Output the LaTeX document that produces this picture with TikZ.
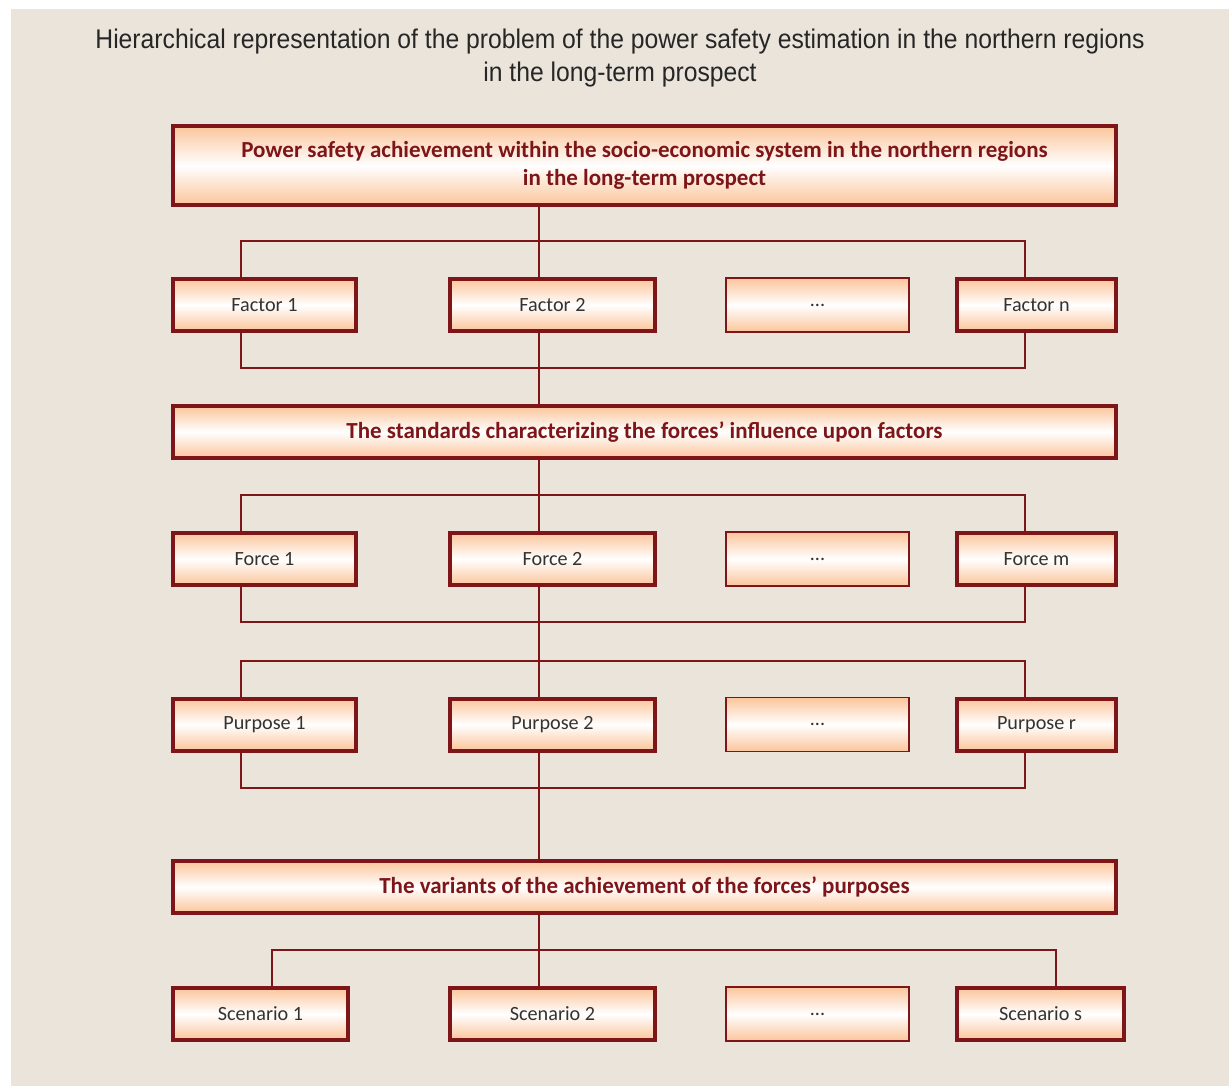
\documentclass[tikz,border=0pt]{standalone}
\usepackage{fontspec}
\setmainfont{Carlito}
\newfontfamily\titlefont[FakeStretch=0.915]{Liberation Sans}
\usepackage{tikz}
\usetikzlibrary{positioning}

\definecolor{wine}{HTML}{7E1518}
\definecolor{peach}{HTML}{FBC59B}
\definecolor{paper}{HTML}{EBE4DA}
\definecolor{ink}{HTML}{333333}

\begin{document}
\begin{tikzpicture}[x=1pt,y=-1pt,
    box/.style={draw=wine,line width=4pt,top color=peach,bottom color=peach,
      middle color=white,inner sep=0pt,minimum height=52pt,text=ink,
      font=\fontsize{20.2}{23}\selectfont},
    headbox/.style={box,minimum width=943pt,text=wine,
      font=\fontsize{23}{28}\selectfont\bfseries,align=center},
    gapbox/.style={box,line width=1.5pt,minimum height=54pt},
    link/.style={draw=wine,line width=2pt}]

        % background and page
        \useasboundingbox (0,0) rectangle (1229,1086);
        \fill[white] (0,0) rectangle (1229,1086);
        \fill[paper] (11,9) rectangle (1229,1086);

        \node[font=\titlefont\fontsize{27}{33}\selectfont,text=black!85,align=center]
            (title) at (620,58) {Hierarchical representation of the problem of the power safety estimation in the northern regions\\in the long-term prospect};

        % top goal
        \node[headbox,minimum height=79pt] (goal) at (644.5,165.5)
            {Power safety achievement within the socio-economic system in the northern regions\\in the long-term prospect};

        % factors
        \node[box,minimum width=183pt] (fac1) at (264.5,305) {Factor 1};
        \node[box,minimum width=205pt] (fac2) at (552.5,305) {Factor 2};
        \node[gapbox,minimum width=183pt] (facx) at (817.5,305) {...};
        \node[box,minimum width=159pt] (facn) at (1036.5,305) {Factor n};

        \node[headbox] (stand) at (644.5,432)
            {The standards characterizing the forces’ influence upon factors};

        % forces
        \node[box,minimum width=183pt] (frc1) at (264.5,559) {Force 1};
        \node[box,minimum width=205pt] (frc2) at (552.5,559) {Force 2};
        \node[gapbox,minimum width=183pt] (frcx) at (817.5,559) {...};
        \node[box,minimum width=159pt] (frcm) at (1036.5,559) {Force m};

        % purposes
        \node[box,minimum width=183pt] (pur1) at (264.5,724.5) {Purpose 1};
        \node[box,minimum width=205pt] (pur2) at (552.5,724.5) {Purpose 2};
        \node[gapbox,minimum width=183pt] (purx) at (817.5,724.5) {...};
        \node[box,minimum width=159pt] (purr) at (1036.5,724.5) {Purpose r};

        \node[headbox] (var) at (644.5,887)
            {The variants of the achievement of the forces’ purposes};

        % scenarios
        \node[box,minimum width=175pt] (scn1) at (260.5,1014) {Scenario 1};
        \node[box,minimum width=205pt] (scn2) at (552.5,1014) {Scenario 2};
        \node[gapbox,minimum width=183pt] (scnx) at (817.5,1014) {...};
        \node[box,minimum width=167pt] (scns) at (1040.5,1014) {Scenario s};

        \coordinate (spine) at (539,0);
        \coordinate (busl) at (241,0);
        \coordinate (busr) at (1025,0);
        \coordinate (scnl) at (272,0);
        \coordinate (scnr) at (1056,0);

        % spine through the middle column
        \path[link] (goal.south -| spine) -- (fac2.north -| spine)
        (fac2.south -| spine) -- (stand.north -| spine)
        (stand.south -| spine) -- (frc2.north -| spine)
        (frc2.south -| spine) -- (pur2.north -| spine)
        (pur2.south -| spine) -- (var.north -| spine)
        (var.south -| spine) -- (scn2.north -| spine);

        % buses above and below each row
        \path[link] (fac1.north -| busl) -- ++(0,-36) -| (facn.north -| busr)
        (fac1.south -| busl) -- ++(0,35) -| (facn.south -| busr)
        (frc1.north -| busl) -- ++(0,-36) -| (frcm.north -| busr)
        (frc1.south -| busl) -- ++(0,35) -| (frcm.south -| busr)
        (pur1.north -| busl) -- ++(0,-36) -| (purr.north -| busr)
        (pur1.south -| busl) -- ++(0,35) -| (purr.south -| busr)
        (scn1.north -| scnl) -- ++(0,-36) -| (scns.north -| scnr);
\end{tikzpicture}
\end{document}
